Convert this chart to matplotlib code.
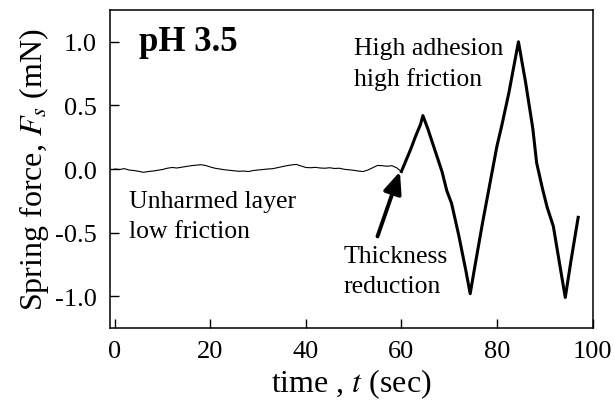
import matplotlib.pyplot as plt
import numpy as np

plt.rcParams['font.family'] = ['Liberation Serif', 'DejaVu Serif']
plt.rcParams['mathtext.fontset'] = 'stix'

# baseline (unharmed layer), one reading per second, 0..60 s
t_base = np.arange(0, 61, 1.0)
f_base = [0.000, -0.004, 0.003, -0.008, -0.012, -0.018, -0.026, -0.020, -0.016, -0.010,
          -0.004, 0.006, 0.012, 0.008, 0.014, 0.020, 0.026, 0.030, 0.034, 0.028,
          0.016, 0.006, 0.000, -0.006, -0.010, -0.014, -0.018, -0.016, -0.020, -0.012,
          -0.008, -0.004, 0.000, 0.002, 0.010, 0.018, 0.026, 0.032, 0.036, 0.024,
          0.012, 0.010, 0.013, 0.008, 0.006, 0.010, 0.004, 0.006, -0.002, -0.006,
          -0.010, -0.016, -0.020, -0.008, 0.010, 0.028, 0.026, 0.022, 0.026, 0.010,
          -0.020]

# stick-slip region after thickness reduction
t_act = [60.0, 61.0, 62.0, 63.0, 64.0, 64.5, 65.5, 67.0, 68.5, 69.5, 70.5, 72.0, 73.5, 74.4,
         75.5, 77.0, 78.5, 80.0, 81.0, 82.5, 84.5, 86.0, 87.5, 88.3, 89.5, 90.5, 91.8,
         93.0, 94.3, 95.5, 97.0]
f_act = [-0.02, 0.07, 0.16, 0.26, 0.35, 0.42, 0.32, 0.15, -0.02, -0.17, -0.27, -0.52, -0.80, -0.98,
         -0.74, -0.42, -0.12, 0.18, 0.34, 0.60, 1.00, 0.68, 0.32, 0.05, -0.15, -0.30, -0.45,
         -0.72, -1.01, -0.72, -0.38]

fig = plt.figure(figsize=(6.14, 4.02), dpi=100)
ax = fig.add_axes([0.179, 0.1816, 0.786, 0.791])

ax.plot(t_base, f_base, color='k', lw=0.8)
ax.plot(t_act, f_act, color='k', lw=2.2)

ax.set_xlim(-1, 100)
ax.set_ylim(-1.25, 1.25)
ax.set_xticks([0, 20, 40, 60, 80, 100])
ax.set_yticks([-1.0, -0.5, 0.0, 0.5, 1.0])
ax.set_yticklabels(['-1.0', '-0.5', '0.0', '0.5', '1.0'])
ax.tick_params(direction='in', length=6.5, width=1.0, labelsize=19,
               top=False, right=False)
ax.tick_params(axis='y', pad=9.5)
ax.tick_params(axis='x', pad=9)
for s in ax.spines.values():
    s.set_linewidth(1.1)

ax.set_xlabel('time , $t$ (sec)', fontsize=23, labelpad=2.5)
ax.set_ylabel('Spring force, $F_s$ (mN)', fontsize=23, labelpad=3)

ax.text(5.0, 1.0, 'pH 3.5', fontsize=25, fontweight='bold', va='center', ha='left')
ax.text(3.1, -0.37, 'Unharmed layer\nlow friction', fontsize=18.5, va='center', ha='left',
        linespacing=1.45)
ax.text(50.0, 0.83, 'High adhesion\nhigh friction', fontsize=18.5, va='center', ha='left',
        linespacing=1.45)
ax.text(47.8, -0.80, 'Thickness\nreduction', fontsize=18.5, va='center', ha='left',
        linespacing=1.45)

ax.annotate('', xy=(59.7, -0.02), xytext=(55.0, -0.53),
            arrowprops=dict(arrowstyle='-|>,head_length=1.3,head_width=0.55',
                            color='k', lw=2.8, shrinkA=0, shrinkB=0))

fig.savefig('out.png', dpi=100)
